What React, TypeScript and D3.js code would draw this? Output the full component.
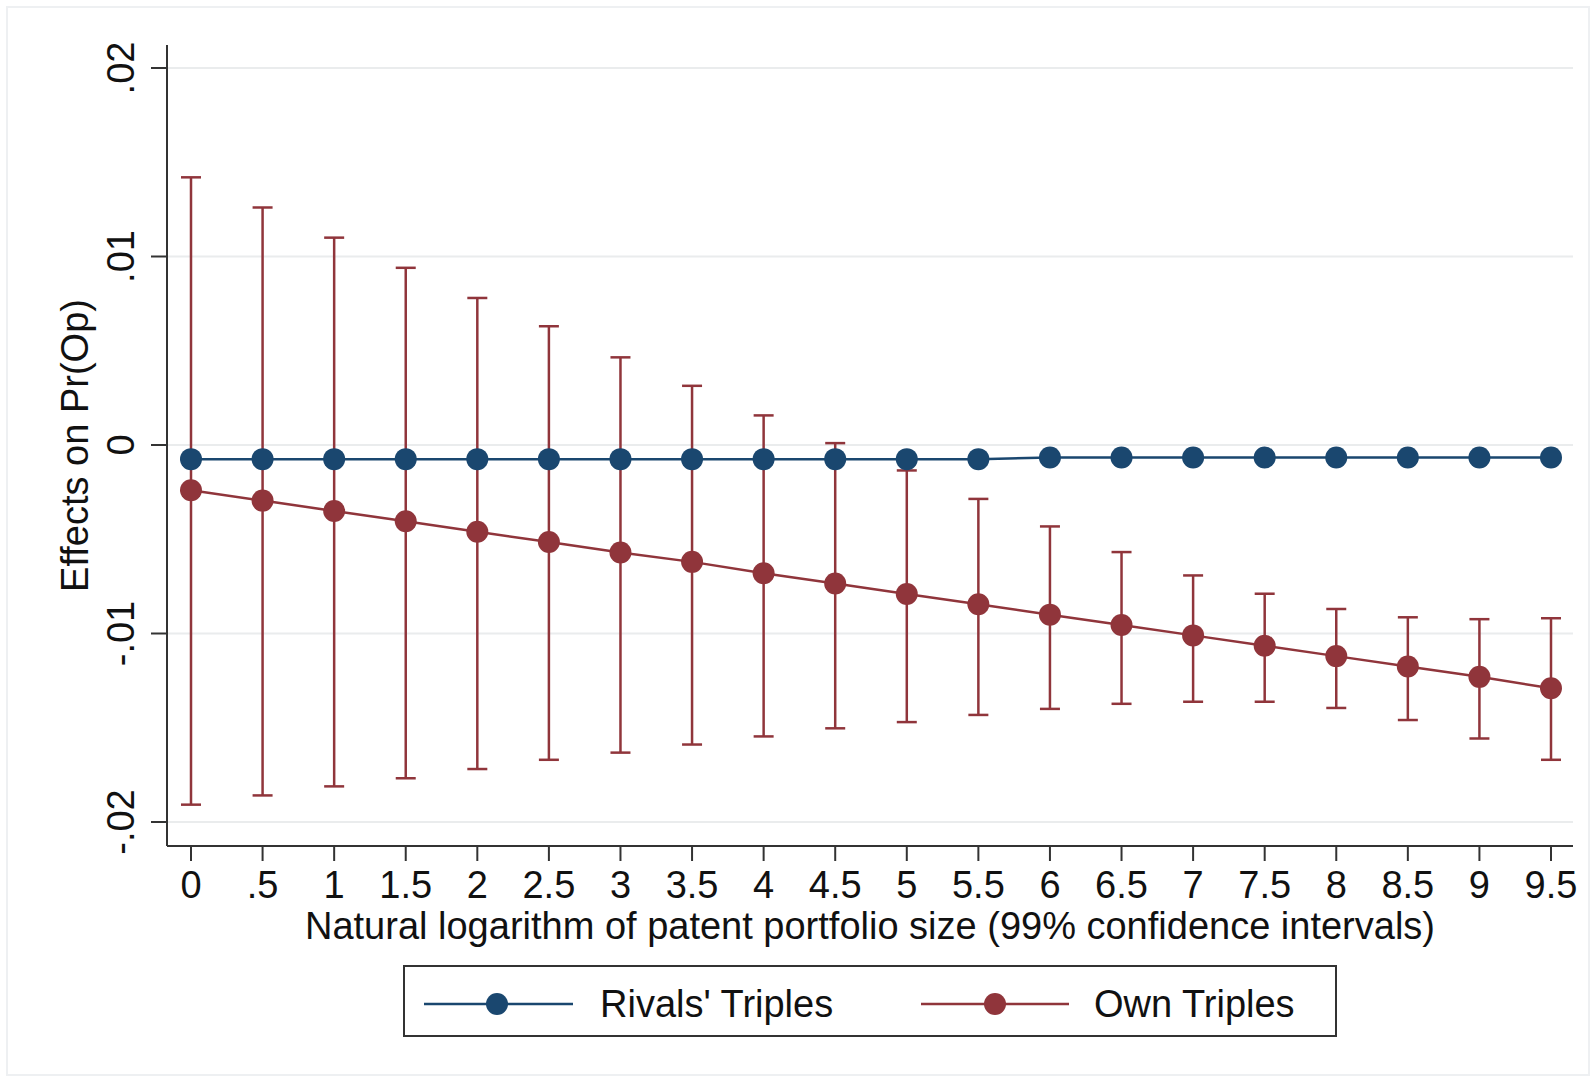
import React from "react";
import * as d3 from "d3";

const xValues = [0, 0.5, 1, 1.5, 2, 2.5, 3, 3.5, 4, 4.5, 5, 5.5, 6, 6.5, 7, 7.5, 8, 8.5, 9, 9.5];
const xTickLabels = ["0", ".5", "1", "1.5", "2", "2.5", "3", "3.5", "4", "4.5", "5", "5.5", "6", "6.5", "7", "7.5", "8", "8.5", "9", "9.5"];
const yTicks = [-0.02, -0.01, 0, 0.01, 0.02];
const yTickLabels = ["-.02", "-.01", "0", ".01", ".02"];

const rivalsMean = [
  -0.00075, -0.00075, -0.00075, -0.00075, -0.00075, -0.00075, -0.00075, -0.00075, -0.00075, -0.00075,
  -0.00075, -0.00075, -0.00066, -0.00066, -0.00066, -0.00066, -0.00066, -0.00066, -0.00066, -0.00066,
];
const ownMean = [
  -0.0024, -0.00295, -0.0035, -0.00405, -0.0046, -0.00515, -0.0057, -0.0062, -0.0068, -0.00735,
  -0.0079, -0.00845, -0.009, -0.00955, -0.0101, -0.01065, -0.0112, -0.01175, -0.0123, -0.0129,
];
const ownUpper = [
  0.0142, 0.0126, 0.011, 0.0094, 0.0078, 0.0063, 0.00465, 0.00314, 0.00157, 0.0001,
  -0.00135, -0.00286, -0.00432, -0.00568, -0.00692, -0.00789, -0.0087, -0.00914, -0.00924, -0.00919,
];
const ownLower = [
  -0.01908, -0.01859, -0.01811, -0.01768, -0.01719, -0.0167, -0.01632, -0.01589, -0.01546, -0.01503,
  -0.0147, -0.01432, -0.014, -0.01373, -0.01362, -0.01362, -0.01395, -0.01459, -0.01557, -0.0167,
];

const seriesNames = ["Rivals' Triples", "Own Triples"];
const BLUE = "#1a476f";
const RED = "#90353b";

const W = 1596;
const H = 1082;
const plotLeft = 167;
const plotRight = 1573;
const plotTop = 45;
const plotBottom = 846;
const FONT = "'Liberation Sans', Arial, Helvetica, sans-serif";

export default function App() {
  const x = d3.scaleLinear().domain([0, 9.5]).range([191, 1551]);
  const y = d3.scaleLinear().domain([-0.02, 0.02]).range([822, 68]);

  const line = d3
    .line<[number, number]>()
    .x((d) => x(d[0]))
    .y((d) => y(d[1]));

  const rivalsPts: [number, number][] = xValues.map((v, i) => [v, rivalsMean[i]]);
  const ownPts: [number, number][] = xValues.map((v, i) => [v, ownMean[i]]);

  const capHalf = 10;
  const r = 11;
  const fs = 38;

  const legendLineY = 1004;
  const legendTextY = 1017;

  return (
    <svg
      width={W}
      height={H}
      style={{ position: "absolute", left: 0, top: 0, background: "#fff" }}
      fontFamily={FONT}
    >
      <rect x={0} y={0} width={W} height={H} fill="#fff" />
      <rect x={7} y={7} width={W - 14} height={H - 14} fill="#fff" stroke="#eef0f2" strokeWidth={2} />

      {/* gridlines */}
      {yTicks.map((t) => (
        <line key={"g" + t} x1={plotLeft} x2={plotRight} y1={y(t)} y2={y(t)} stroke="#eaeced" strokeWidth={2} />
      ))}

      {/* y axis */}
      <line x1={plotLeft} x2={plotLeft} y1={plotTop} y2={plotBottom} stroke="#333" strokeWidth={2} />
      {yTicks.map((t, i) => (
        <g key={"yt" + t}>
          <line x1={plotLeft - 16} x2={plotLeft} y1={y(t)} y2={y(t)} stroke="#333" strokeWidth={2} />
          <text
            transform={`translate(${134},${y(t)}) rotate(-90)`}
            textAnchor="middle"
            fontSize={fs}
            fill="#111"
          >
            {yTickLabels[i]}
          </text>
        </g>
      ))}
      <text
        transform={`translate(${88},${(plotTop + plotBottom) / 2}) rotate(-90)`}
        textAnchor="middle"
        fontSize={fs}
        fill="#111"
      >
        Effects on Pr(Op)
      </text>

      {/* x axis */}
      <line x1={plotLeft} x2={plotRight} y1={plotBottom} y2={plotBottom} stroke="#333" strokeWidth={2} />
      {xValues.map((v, i) => (
        <g key={"xt" + v}>
          <line x1={x(v)} x2={x(v)} y1={plotBottom} y2={plotBottom + 15} stroke="#333" strokeWidth={2} />
          <text x={x(v)} y={898} textAnchor="middle" fontSize={fs} fill="#111">
            {xTickLabels[i]}
          </text>
        </g>
      ))}
      <text x={(plotLeft + plotRight) / 2} y={939} textAnchor="middle" fontSize={fs} fill="#111">
        Natural logarithm of patent portfolio size (99% confidence intervals)
      </text>

      {/* error bars for own triples */}
      {xValues.map((v, i) => (
        <g key={"eb" + v} stroke={RED} strokeWidth={2.5}>
          <line x1={x(v)} x2={x(v)} y1={y(ownUpper[i])} y2={y(ownLower[i])} />
          <line x1={x(v) - capHalf} x2={x(v) + capHalf} y1={y(ownUpper[i])} y2={y(ownUpper[i])} />
          <line x1={x(v) - capHalf} x2={x(v) + capHalf} y1={y(ownLower[i])} y2={y(ownLower[i])} />
        </g>
      ))}

      {/* rivals line */}
      <path d={line(rivalsPts) || ""} fill="none" stroke={BLUE} strokeWidth={2.5} />
      {rivalsPts.map((p) => (
        <circle key={"rc" + p[0]} cx={x(p[0])} cy={y(p[1])} r={r} fill={BLUE} />
      ))}

      {/* own line */}
      <path d={line(ownPts) || ""} fill="none" stroke={RED} strokeWidth={2.5} />
      {ownPts.map((p) => (
        <circle key={"oc" + p[0]} cx={x(p[0])} cy={y(p[1])} r={r} fill={RED} />
      ))}

      {/* legend */}
      <rect x={404} y={966} width={932} height={70} fill="#fff" stroke="#333" strokeWidth={2} />
      <g>
        <line x1={424} x2={573} y1={legendLineY} y2={legendLineY} stroke={BLUE} strokeWidth={2.5} />
        <circle cx={497} cy={legendLineY} r={r} fill={BLUE} />
        <text x={600} y={legendTextY} fontSize={fs} fill="#111">
          {seriesNames[0]}
        </text>
        <line x1={921} x2={1069} y1={legendLineY} y2={legendLineY} stroke={RED} strokeWidth={2.5} />
        <circle cx={995} cy={legendLineY} r={r} fill={RED} />
        <text x={1094} y={legendTextY} fontSize={fs} fill="#111">
          {seriesNames[1]}
        </text>
      </g>
    </svg>
  );
}
